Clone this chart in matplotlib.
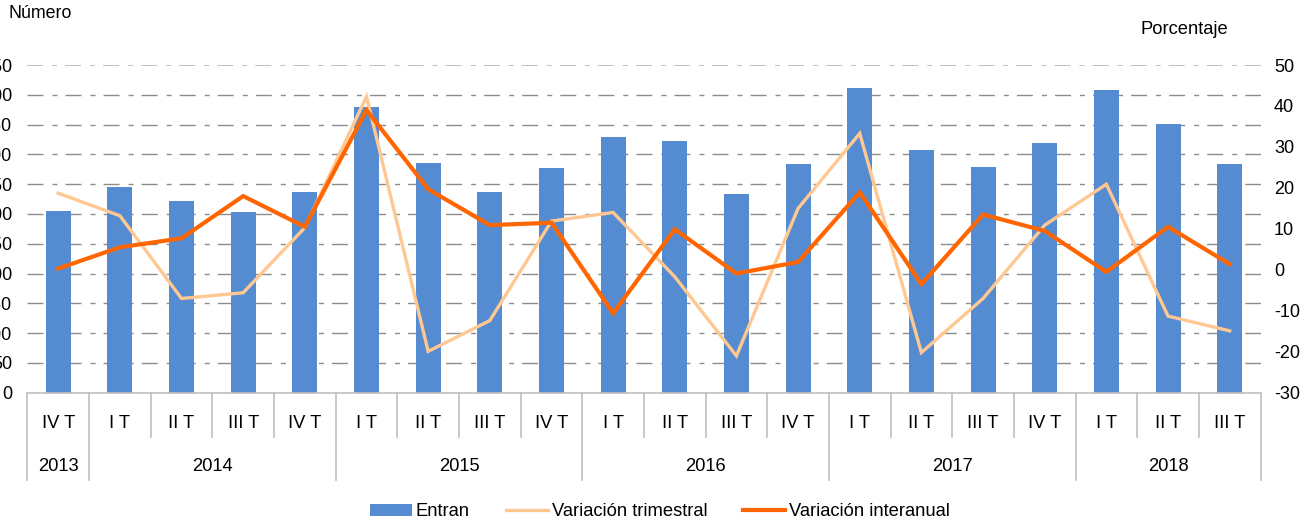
import matplotlib
matplotlib.use("Agg")
import matplotlib.pyplot as plt
import matplotlib.transforms as mtransforms
import numpy as np

plt.rcParams['font.family'] = ['Liberation Sans', 'DejaVu Sans']
plt.rcParams['lines.scale_dashes'] = False

# ---- data ----
quarters = ["IV T",
            "I T", "II T", "III T", "IV T",
            "I T", "II T", "III T", "IV T",
            "I T", "II T", "III T", "IV T",
            "I T", "II T", "III T", "IV T",
            "I T", "II T", "III T"]
years = ["2013", "2014", "2015", "2016", "2017", "2018"]
year_counts = [1, 4, 4, 4, 4, 3]

entran = [305, 345, 322, 303, 337, 480, 385, 337, 377, 429,
          422, 333, 384, 511, 407, 379, 419, 508, 451, 384]
var_trimestral = [18.7, 13.2, -7.0, -5.6, 10.3, 42.3, -19.9, -12.4, 11.9, 14.0,
                  -1.7, -21.0, 15.0, 33.3, -20.2, -7.0, 10.9, 20.9, -11.3, -14.9]
var_interanual = [0.3, 5.5, 7.7, 18.0, 10.5, 39.0, 19.7, 10.9, 11.5, -10.6,
                  9.9, -0.9, 1.9, 18.9, -3.5, 13.5, 9.5, -0.5, 10.5, 1.4]

left_ticks = list(range(0, 551, 50))
right_ticks = list(range(-30, 51, 10))

# ---- style ----
bar_color = "#558BD1"
light_orange = "#FFC893"
dark_orange = "#FF6600"
grid_color = "#8C8C8C"
sep_color = "#BFBFBF"

W, H = 1309, 525
fig = plt.figure(figsize=(W / 100, H / 100), dpi=100)
ax_l, ax_r, ax_b, ax_t = 27.4, 1260.5, 392.7, 65.0
ax = fig.add_axes([ax_l / W, 1 - ax_b / H, (ax_r - ax_l) / W, (ax_b - ax_t) / H])

n = len(quarters)
x = np.arange(n)
ax.set_xlim(-0.5, n - 0.5)
ax.set_ylim(0, 550)

# gridlines
for v in left_ticks[1:]:
    top = (v == left_ticks[-1])
    ax.axhline(v, color=("#BFBFBF" if top else grid_color), lw=(1.4 if top else 1.0),
               linestyle=(0, (11.5, 6.5, 3.6, 5.8)), zorder=0.5)

bars = ax.bar(x, entran, width=0.406, color=bar_color, zorder=2, label="Entran")

ax.set_yticks(left_ticks)
ax.set_yticklabels([str(v) for v in left_ticks])
ax.tick_params(axis='y', length=0, pad=11, labelsize=13)
ax.set_xticks([])
for s in ['left', 'right', 'top']:
    ax.spines[s].set_visible(False)
ax.spines['bottom'].set_color(sep_color)
ax.spines['bottom'].set_linewidth(1.2)

ax2 = ax.twinx()
ax2.set_ylim(-30, 50)
l1, = ax2.plot(x, var_trimestral, color=light_orange, lw=2.4, label="Variación trimestral",
               solid_joinstyle='miter', zorder=3)
l2, = ax2.plot(x, var_interanual, color=dark_orange, lw=3.0, label="Variación interanual",
               solid_joinstyle='miter', zorder=4)
ax2.set_yticks(right_ticks)
ax2.set_yticklabels([str(v) for v in right_ticks])
ax2.tick_params(axis='y', length=0, pad=9.7, labelsize=13)
for s in ['left', 'right', 'top', 'bottom']:
    ax2.spines[s].set_visible(False)

# two-level category axis
trans = mtransforms.blended_transform_factory(ax.transData, ax.transAxes)
q_label_y = (ax_b - 423.7) / (ax_b - ax_t)
y_label_y = (ax_b - 466.7) / (ax_b - ax_t)
q_sep_y = (ax_b - 436.7) / (ax_b - ax_t)
y_sep_y = (ax_b - 480.0) / (ax_b - ax_t)

for i, q in enumerate(quarters):
    ax.text(i, q_label_y, q, transform=trans, ha='center', va='center',
            fontsize=13.2, color='#000000')

year_bounds = np.cumsum([0] + year_counts)
for i in range(n + 1):
    xb = i - 0.5
    bottom = y_sep_y if i in year_bounds else q_sep_y
    ax.plot([xb, xb], [0, bottom], transform=trans, color=sep_color, lw=1.2,
            clip_on=False, zorder=1)
for yname, a, b in zip(years, year_bounds[:-1], year_bounds[1:]):
    ax.text((a + b - 1) / 2, y_label_y, yname, transform=trans, ha='center', va='center',
            fontsize=13.2, color='#000000')

# axis titles
fig.text(9 / W, 1 - 13 / H, "Número", ha='left', va='center', fontsize=12.8)
fig.text(1140 / W, 1 - 30 / H, "Porcentaje", ha='left', va='center', fontsize=13.2)

fig.legend(handles=[bars, l1, l2], labels=["Entran", "Variación trimestral", "Variación interanual"],
           loc='center', bbox_to_anchor=(660 / W, 1 - 512 / H), ncol=3, frameon=False,
           fontsize=13.2, handlelength=2.3, handleheight=0.6, handletextpad=0.22,
           columnspacing=1.95)

fig.savefig("out.png", dpi=100)
